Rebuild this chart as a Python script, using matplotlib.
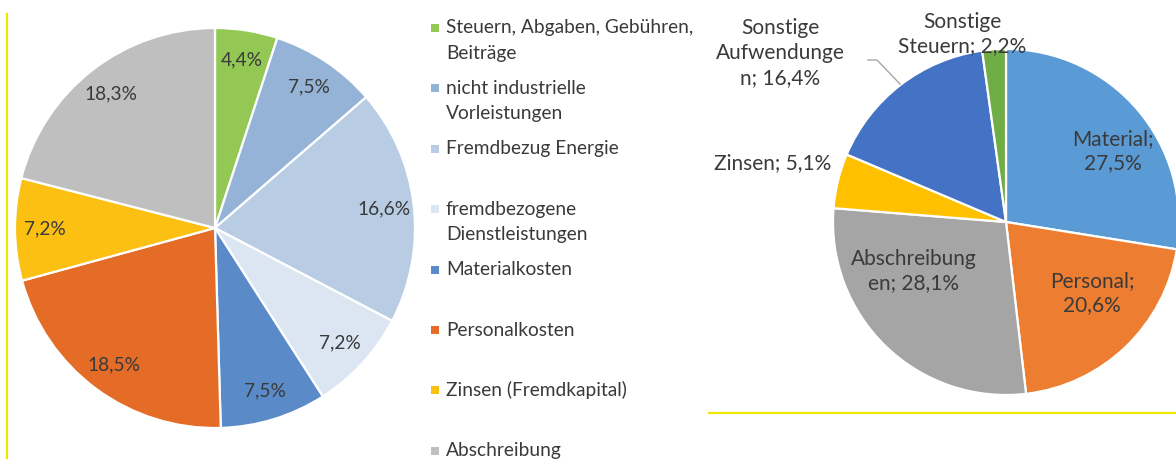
import matplotlib.pyplot as plt

plt.rcParams['font.family'] = ['Lato', 'DejaVu Sans']

# left chart: cost structure
left_labels = ['Steuern, Abgaben, Gebühren,\nBeiträge', 'nicht industrielle\nVorleistungen',
               'Fremdbezug Energie', 'fremdbezogene\nDienstleistungen', 'Materialkosten',
               'Personalkosten', 'Zinsen (Fremdkapital)', 'Abschreibung']
left_values = [4.4, 7.5, 16.6, 7.2, 7.5, 18.5, 7.2, 18.3]
left_colors = ['#92C853', '#95B3D7', '#B8CCE4', '#DCE6F2', '#5A8BC8', '#E46C26', '#FBC012', '#BFBFBF']

# right chart
right_labels = ['Material', 'Personal', 'Abschreibungen', 'Zinsen',
                'Sonstige Aufwendungen', 'Sonstige Steuern']
right_values = [27.5, 20.6, 28.1, 5.1, 16.4, 2.2]
right_colors = ['#5B9BD5', '#ED7D31', '#A5A5A5', '#FFC000', '#4472C4', '#70AD47']
# label text as broken by Excel
right_texts = ['Material;\n27,5%', 'Personal;\n20,6%', 'Abschreibung\nen; 28,1%',
               'Zinsen; 5,1%', 'Sonstige\nAufwendunge\nn; 16,4%', 'Sonstige\nSteuern; 2,2%']

W, H = 1176, 459
txt = '#3a3a3a'

def fmt(v):
    return ('%.1f%%' % v).replace('.', ',')

fig = plt.figure(figsize=(W / 100, H / 100), dpi=100)
ax = fig.add_axes([0, 0, 1, 1])

wp = dict(edgecolor='white', linewidth=1.6)
_, ltexts = ax.pie(left_values, colors=left_colors, startangle=90, counterclock=False,
                   center=(215, H - 228), radius=200, wedgeprops=wp,
                   labels=[fmt(v) for v in left_values], labeldistance=0.85,
                   textprops=dict(fontsize=13.8, color=txt))
for t in ltexts:
    t.set_ha('center')
    t.set_va('center')

ax.pie(right_values, colors=right_colors, startangle=90, counterclock=False,
       center=(1006, H - 222), radius=173, wedgeprops=wp)

# label anchor points (pixels from top-left), Excel placed some outside
right_pos = [(1113, 151), (1092, 293), (914, 271), (773, 163), (780, 53), (962, 34)]
for s, (x, y) in zip(right_texts, right_pos):
    ax.text(x, H - y, s, ha='center', va='center', fontsize=15, color=txt,
            linespacing=1.3)

# leader line for "Sonstige Aufwendungen"
ax.plot([868, 877, 900], [H - 60, H - 60, H - 84], color='#A6A6A6', lw=1)

# legend of the left chart
for k, (lab, c) in enumerate(zip(left_labels, left_colors)):
    y = 28 + k * 60.4
    ax.scatter([435], [H - y], marker='s', s=40, color=c, linewidths=0)
    for i, line in enumerate(lab.split('\n')):
        ax.text(446, H - (y + i * 25.5), line, ha='left', va='center', fontsize=13.8, color=txt)

# yellow frame lines
ax.plot([7, 7], [H - 14, 0], color='#F0E600', lw=1.6)
ax.plot([709, W], [H - 413, H - 413], color='#F0E600', lw=1.6)

ax.set_xlim(0, W)
ax.set_ylim(0, H)
ax.set_aspect('equal')
ax.axis('off')

fig.savefig('out.png', dpi=100)
